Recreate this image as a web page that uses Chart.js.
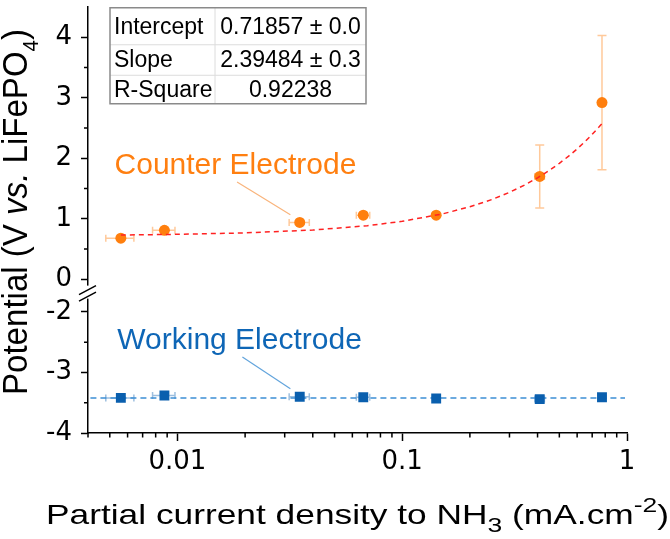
<!DOCTYPE html>
<html>
<head>
<meta charset="utf-8">
<script src="https://cdn.jsdelivr.net/npm/chart.js@4.4.1/dist/chart.umd.min.js"></script>
<style>
    html, body { margin: 0; padding: 0; background: #fff; }
    #wrap { width: 670px; height: 539px; }
</style>
</head>
<body>
<div id="wrap"><canvas id="chart" width="670" height="539"></canvas></div>
<script>
// partial current density to NH3 (mA.cm-2), same samples for both electrodes
const currentDensity = [0.0056, 0.00875, 0.035, 0.0671, 0.1416, 0.409, 0.774];
const currentDensityErr = [0.0008, 0.001, 0.0036, 0.0046, 0.004, 0.02, 0];

// potential (V vs. LiFePO4)
const counterPotential = [0.68, 0.81, 0.94, 1.06, 1.06, 1.70, 2.92];
const counterPotentialErr = [0.03, 0.03, 0.03, 0.03, 0.03, 0.52, 1.11];
const workingPotential = [-3.42, -3.38, -3.40, -3.41, -3.43, -3.44, -3.41];
const workingPotentialErr = [0.02, 0.02, 0.02, 0.02, 0.02, 0.02, 0.02];

// linear fit through the counter electrode points (curved because x is log)
const fitX = [0.0056, 0.01, 0.02, 0.04, 0.07, 0.1, 0.15, 0.2, 0.25, 0.3, 0.35, 0.4, 0.45, 0.5, 0.55, 0.6, 0.65, 0.7, 0.75, 0.78];
const fitY = [0.732, 0.743, 0.767, 0.814, 0.886, 0.958, 1.078, 1.198, 1.317, 1.437, 1.557, 1.677, 1.796, 1.916, 2.036, 2.155, 2.275, 2.395, 2.515, 2.587];

// flat guide through the working electrode points
const workingLineX = [0.0041, 0.98];
const workingLineY = [-3.42, -3.42];

const fitTableLabels = ['Intercept', 'Slope', 'R-Square'];
const fitTableValues = ['0.71857 \u00b1 0.0', '2.39484 \u00b1 0.3', '0.92238'];

const xTickValues = [0.01, 0.1, 1];
const xTickLabels = ['0.01', '0.1', '1'];
const yTopTicks = [0, 1, 2, 3, 4];
const yBottomTicks = [-4, -3, -2];

const TEXT_FONT = '"Liberation Sans", Arial, sans-serif';
const TICK_FONT = '"DejaVu Sans", sans-serif';

const ORANGE = '#ff7f0e';
const BLUE = '#0a5fae';

const toPoints = (xs, ys) => xs.map((x, i) => ({x: x, y: ys[i]}));

function drawRichText(ctx, parts, size, cx, baseline, targetWidth, scriptScale) {
    const fontOf = p => `${p.italic ? 'italic ' : ''}${p.script ? size * scriptScale : size}px ${TEXT_FONT}`;
    let natural = 0;
    parts.forEach(p => {
        ctx.font = fontOf(p);
        natural += ctx.measureText(p.text).width;
    });
    const sx = targetWidth ? targetWidth / natural : 1;
    ctx.save();
    ctx.translate(cx - natural * sx / 2, baseline);
    ctx.scale(sx, 1);
    ctx.textAlign = 'left';
    ctx.textBaseline = 'alphabetic';
    let x = 0;
    parts.forEach(p => {
        ctx.font = fontOf(p);
        let dy = 0;
        if (p.script === 'sub') dy = size * 0.3;
        if (p.script === 'sup') dy = -size * 0.42;
        ctx.fillText(p.text, x, dy);
        x += ctx.measureText(p.text).width;
    });
    ctx.restore();
}

const errorBarPlugin = {
    id: 'errorBars',
    beforeDatasetsDraw(chart) {
        const ctx = chart.ctx;
        chart.data.datasets.forEach((ds, i) => {
            if (!ds.errorBars) {
                return;
            }
            const meta = chart.getDatasetMeta(i);
            const xs = chart.scales[meta.xAxisID];
            const ys = chart.scales[meta.yAxisID];
            ctx.save();
            ctx.strokeStyle = ds.errorBars.color;
            ctx.lineWidth = 1.5;
            ctx.beginPath();
            ds.data.forEach((p, k) => {
                const px = xs.getPixelForValue(p.x);
                const py = ys.getPixelForValue(p.y);
                const ey = ds.errorBars.y[k];
                const ex = ds.errorBars.x[k];
                if (ey > 0) {
                    const top = ys.getPixelForValue(p.y + ey);
                    const bottom = ys.getPixelForValue(p.y - ey);
                    ctx.moveTo(px, top); ctx.lineTo(px, bottom);
                    ctx.moveTo(px - 4.5, top); ctx.lineTo(px + 4.5, top);
                    ctx.moveTo(px - 4.5, bottom); ctx.lineTo(px + 4.5, bottom);
                }
                if (ex > 0) {
                    const left = xs.getPixelForValue(p.x - ex);
                    const right = xs.getPixelForValue(p.x + ex);
                    ctx.moveTo(left, py); ctx.lineTo(right, py);
                    ctx.moveTo(left, py - 3.5); ctx.lineTo(left, py + 3.5);
                    ctx.moveTo(right, py - 3.5); ctx.lineTo(right, py + 3.5);
                }
            });
            ctx.stroke();
            ctx.restore();
        });
    }
};

const annotationPlugin = {
    id: 'electrodeLabels',
    afterDatasetsDraw(chart, args, options) {
        const ctx = chart.ctx;
        const xs = chart.scales.x;
        options.items.forEach(item => {
            const ys = chart.scales[item.axis];
            ctx.save();
            ctx.strokeStyle = item.lineColor;
            ctx.lineWidth = 1.2;
            ctx.beginPath();
            ctx.moveTo(xs.getPixelForValue(item.from[0]), ys.getPixelForValue(item.from[1]));
            ctx.lineTo(xs.getPixelForValue(item.to[0]), ys.getPixelForValue(item.to[1]));
            ctx.stroke();
            ctx.fillStyle = item.color;
            ctx.font = `30px ${TEXT_FONT}`;
            ctx.textAlign = 'left';
            ctx.textBaseline = 'alphabetic';
            ctx.fillText(item.text, xs.getPixelForValue(item.at[0]), ys.getPixelForValue(item.at[1]));
            ctx.restore();
        });
    }
};

const fitTablePlugin = {
    id: 'fitTable',
    afterDatasetsDraw(chart) {
        const ctx = chart.ctx;
        const area = chart.chartArea;
        const left = area.left + 22;
        const top = area.top + 0.75;
        const width = 256;
        const height = 96;
        const split = left + 105;
        const rowLines = [top + 37, top + 67.5];
        const baselines = [top + 26, top + 59.5, top + 89.5];

        ctx.save();
        ctx.fillStyle = '#fff';
        ctx.fillRect(left, top, width, height);
        ctx.strokeStyle = '#dcdcdc';
        ctx.lineWidth = 1;
        ctx.beginPath();
        rowLines.forEach(y => { ctx.moveTo(left, y); ctx.lineTo(left + width, y); });
        ctx.moveTo(split, top); ctx.lineTo(split, top + height);
        ctx.stroke();
        ctx.strokeStyle = '#8a8a8a';
        ctx.lineWidth = 1.5;
        ctx.strokeRect(left, top, width, height);

        ctx.fillStyle = '#000';
        ctx.font = `23px ${TEXT_FONT}`;
        ctx.textBaseline = 'alphabetic';
        fitTableLabels.forEach((label, i) => {
            ctx.textAlign = 'left';
            ctx.fillText(label, left + 4, baselines[i]);
            ctx.textAlign = 'center';
            ctx.fillText(fitTableValues[i], (split + left + width) / 2, baselines[i]);
        });
        ctx.restore();
    }
};

const axisDecorPlugin = {
    id: 'axisDecor',
    afterDraw(chart) {
        const ctx = chart.ctx;
        const xs = chart.scales.x;
        const yTop = chart.scales.yTop;
        const yBottom = chart.scales.yBottom;

        ctx.save();
        ctx.strokeStyle = '#000';
        ctx.lineWidth = 1.5;
        ctx.beginPath();
        // minor ticks, log decades
        for (let e = -3; e <= -1; e++) {
            for (let m = 2; m <= 9; m++) {
                const v = m * Math.pow(10, e);
                if (v < xs.min * 0.999 || v > xs.max) continue;
                const px = xs.getPixelForValue(v);
                ctx.moveTo(px, xs.top);
                ctx.lineTo(px, xs.top + 4.5);
            }
        }
        // minor ticks every 0.5 V
        [yTop, yBottom].forEach(s => {
            for (let v = Math.ceil(s.min * 2) / 2; v < s.max; v += 0.5) {
                if (Math.abs(v % 1) < 1e-6) continue;
                const py = s.getPixelForValue(v);
                ctx.moveTo(s.right, py);
                ctx.lineTo(s.right - 4, py);
            }
        });
        ctx.stroke();

        // axis break
        const bx = yTop.right;
        const by = yTop.bottom;
        ctx.fillStyle = '#fff';
        ctx.fillRect(bx - 3, by - 7, 6, 13);
        ctx.beginPath();
        [-2.5, 4].forEach(off => {
            ctx.moveTo(bx - 9, by + off + 4.5);
            ctx.lineTo(bx + 8, by + off - 4.5);
        });
        ctx.stroke();

        // axis titles
        ctx.fillStyle = '#000';
        drawRichText(ctx, [
            {text: 'Partial current density to NH'},
            {text: '3', script: 'sub'},
            {text: ' (mA.cm'},
            {text: '-2', script: 'sup'},
            {text: ')'}
        ], 28, (xs.left + xs.right) / 2, 524, 623, 0.75);

        ctx.save();
        ctx.translate(27, yTop.top + 205);
        ctx.rotate(-Math.PI / 2);
        drawRichText(ctx, [
            {text: 'Potential (V '},
            {text: 'vs.', italic: true},
            {text: ' LiFePO'},
            {text: '4', script: 'sub'},
            {text: ')'}
        ], 35, 0, 0, 366, 0.62);
        ctx.restore();
        ctx.restore();
    }
};

const yAxisBase = {
    type: 'linear',
    axis: 'y',
    position: 'left',
    stack: 'potential',
    afterFit: s => { s.width = 88; s.paddingTop = 0; s.paddingBottom = 0; },
    ticks: {font: {family: TICK_FONT, size: 26}, color: '#000', padding: 9, callback: v => String(v)},
    grid: {drawOnChartArea: false, drawTicks: true, tickLength: 7, tickColor: '#000', tickWidth: 1.5},
    border: {display: true, color: '#000', width: 1.5}
};

document.addEventListener('DOMContentLoaded', () => {
    new Chart(document.getElementById('chart'), {
        type: 'scatter',
        data: {
            datasets: [
                {
                    label: 'Linear fit',
                    data: toPoints(fitX, fitY),
                    yAxisID: 'yTop',
                    showLine: true,
                    borderColor: '#ff2222',
                    borderWidth: 1.5,
                    borderDash: [5, 4],
                    pointRadius: 0,
                    order: -1
                },
                {
                    label: 'Counter Electrode',
                    data: toPoints(currentDensity, counterPotential),
                    yAxisID: 'yTop',
                    pointStyle: 'circle',
                    pointRadius: 5.5,
                    backgroundColor: ORANGE,
                    borderColor: ORANGE,
                    borderWidth: 0,
                    order: 0,
                    errorBars: {x: currentDensityErr, y: counterPotentialErr, color: 'rgba(255,127,14,0.42)'}
                },
                {
                    label: 'Working guide',
                    data: toPoints(workingLineX, workingLineY),
                    yAxisID: 'yBottom',
                    showLine: true,
                    borderColor: '#3d8ed5',
                    borderWidth: 1.5,
                    borderDash: [6, 4],
                    pointRadius: 0,
                    order: 1
                },
                {
                    label: 'Working Electrode',
                    data: toPoints(currentDensity, workingPotential),
                    yAxisID: 'yBottom',
                    pointStyle: 'rect',
                    pointRadius: 7,
                    backgroundColor: BLUE,
                    borderColor: BLUE,
                    borderWidth: 0,
                    order: 0,
                    errorBars: {x: currentDensityErr, y: workingPotentialErr, color: 'rgba(10,95,174,0.4)'}
                }
            ]
        },
        options: {
            responsive: false,
            animation: false,
            devicePixelRatio: 1,
            events: [],
            layout: {padding: {left: 0, top: 0, right: 43, bottom: 0}},
            plugins: {
                legend: {display: false},
                tooltip: {enabled: false},
                electrodeLabels: {
                    items: [
                        {text: 'Counter Electrode', color: '#ff7f10', lineColor: '#f9b47c', axis: 'yTop',
                            at: [0.00525, 1.74], from: [0.01842, 1.607], to: [0.0318, 1.065]},
                        {text: 'Working Electrode', color: '#0e66b6', lineColor: '#62a4dc', axis: 'yBottom',
                            at: [0.0054, -2.604], from: [0.01945, -2.745], to: [0.0318, -3.27]}
                    ]
                }
            },
            scales: {
                x: {
                    type: 'logarithmic',
                    position: 'bottom',
                    min: 0.004,
                    max: 1,
                    afterBuildTicks: s => { s.ticks = xTickValues.map(v => ({value: v})); },
                    afterFit: s => { s.height = 106; s.paddingLeft = 0; s.paddingRight = 0; },
                    ticks: {
                        font: {family: TICK_FONT, size: 26},
                        color: '#000',
                        padding: 6,
                        maxRotation: 0,
                        autoSkip: false,
                        callback: value => {
                            const i = xTickValues.findIndex(v => Math.abs(v - value) < 1e-9);
                            return i >= 0 ? xTickLabels[i] : '';
                        }
                    },
                    grid: {drawOnChartArea: false, drawTicks: true, tickLength: 8, tickColor: '#000', tickWidth: 1.5},
                    border: {display: true, color: '#000', width: 1.5}
                },
                yBottom: Object.assign({}, yAxisBase, {
                    min: -4,
                    max: -1.68,
                    stackWeight: 2.32,
                    weight: 0,
                    afterBuildTicks: s => { s.ticks = yBottomTicks.map(v => ({value: v})); }
                }),
                yTop: Object.assign({}, yAxisBase, {
                    min: -0.22,
                    max: 4.5,
                    stackWeight: 4.72,
                    weight: 1,
                    afterBuildTicks: s => { s.ticks = yTopTicks.map(v => ({value: v})); }
                })
            }
        },
        plugins: [errorBarPlugin, annotationPlugin, fitTablePlugin, axisDecorPlugin]
    });
});
</script>
</body>
</html>
